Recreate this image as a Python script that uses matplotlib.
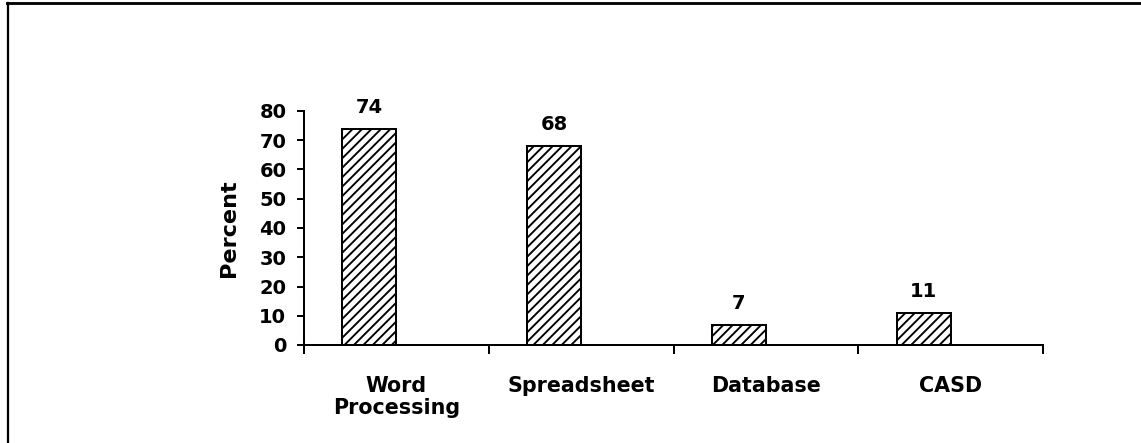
import matplotlib
matplotlib.use("Agg")
import matplotlib.pyplot as plt
from matplotlib.lines import Line2D
import numpy as np

# Share of respondents using each software type (percent)
categories = ["Word\nProcessing", "Spreadsheet", "Database", "CASD"]
percent = [74, 68, 7, 11]
yticks = [0, 10, 20, 30, 40, 50, 60, 70, 80]

DPI = 85
W, H = 1141, 443
plt.rcParams["font.family"] = ["DejaVu Sans"]
plt.rcParams["font.weight"] = "bold"
plt.rcParams["hatch.linewidth"] = 1.6
plt.rcParams["hatch.color"] = "black"

fig = plt.figure(figsize=(W / DPI, H / DPI), dpi=DPI, facecolor="white")
ax = fig.add_axes([304 / W, 1 - 345 / H, (1043 - 304) / W, (345 - 111) / H])

x = np.arange(len(categories))
bar_w = 0.292
# bars sit just left of each category centre
bars = ax.bar(x - bar_w, percent, width=bar_w, align="edge",
              facecolor="white", edgecolor="black", linewidth=1.7,
              hatch="///", zorder=2)

for xi, v in zip(x, percent):
    ax.annotate(f"{v}", xy=(xi - bar_w / 2, v), xytext=(0, 13.5),
                textcoords="offset points", ha="center", va="baseline",
                fontsize=16.5, fontweight="bold")

ax.set_xlim(-0.5, len(categories) - 0.5)
ax.set_ylim(0, 80)
ax.set_yticks(yticks)
ax.set_yticklabels([str(t) for t in yticks], fontsize=16.5, fontweight="bold")

# category boundaries as major ticks, names as minor ticks
ax.set_xticks(np.arange(len(categories) + 1) - 0.5)
ax.set_xticklabels([])
ax.set_xticks(x, minor=True)
ax.set_xticklabels(categories, minor=True, fontsize=17.5, fontweight="bold",
                   linespacing=1.12)

ax.tick_params(axis="y", direction="out", length=6, width=1.7, pad=9)
ax.tick_params(axis="x", which="major", direction="out", length=7.6, width=1.7)
ax.tick_params(axis="x", which="minor", length=0, pad=26.5)

for side in ("top", "right"):
    ax.spines[side].set_visible(False)
for side in ("left", "bottom"):
    ax.spines[side].set_linewidth(1.7)

ax.set_ylabel("Percent", fontsize=19, fontweight="bold", va="center")
ax.yaxis.set_label_coords(-75 / (1043 - 304), 0.5)

# page frame lines (top and left)
fig.add_artist(Line2D([7 / W, 1.0], [1 - 3 / H, 1 - 3 / H],
                      transform=fig.transFigure, color="black", linewidth=2.4))
fig.add_artist(Line2D([8 / W, 8 / W], [0, 1 - 3 / H],
                      transform=fig.transFigure, color="black", linewidth=1.9))

fig.savefig("out.png", dpi=DPI, facecolor="white")
